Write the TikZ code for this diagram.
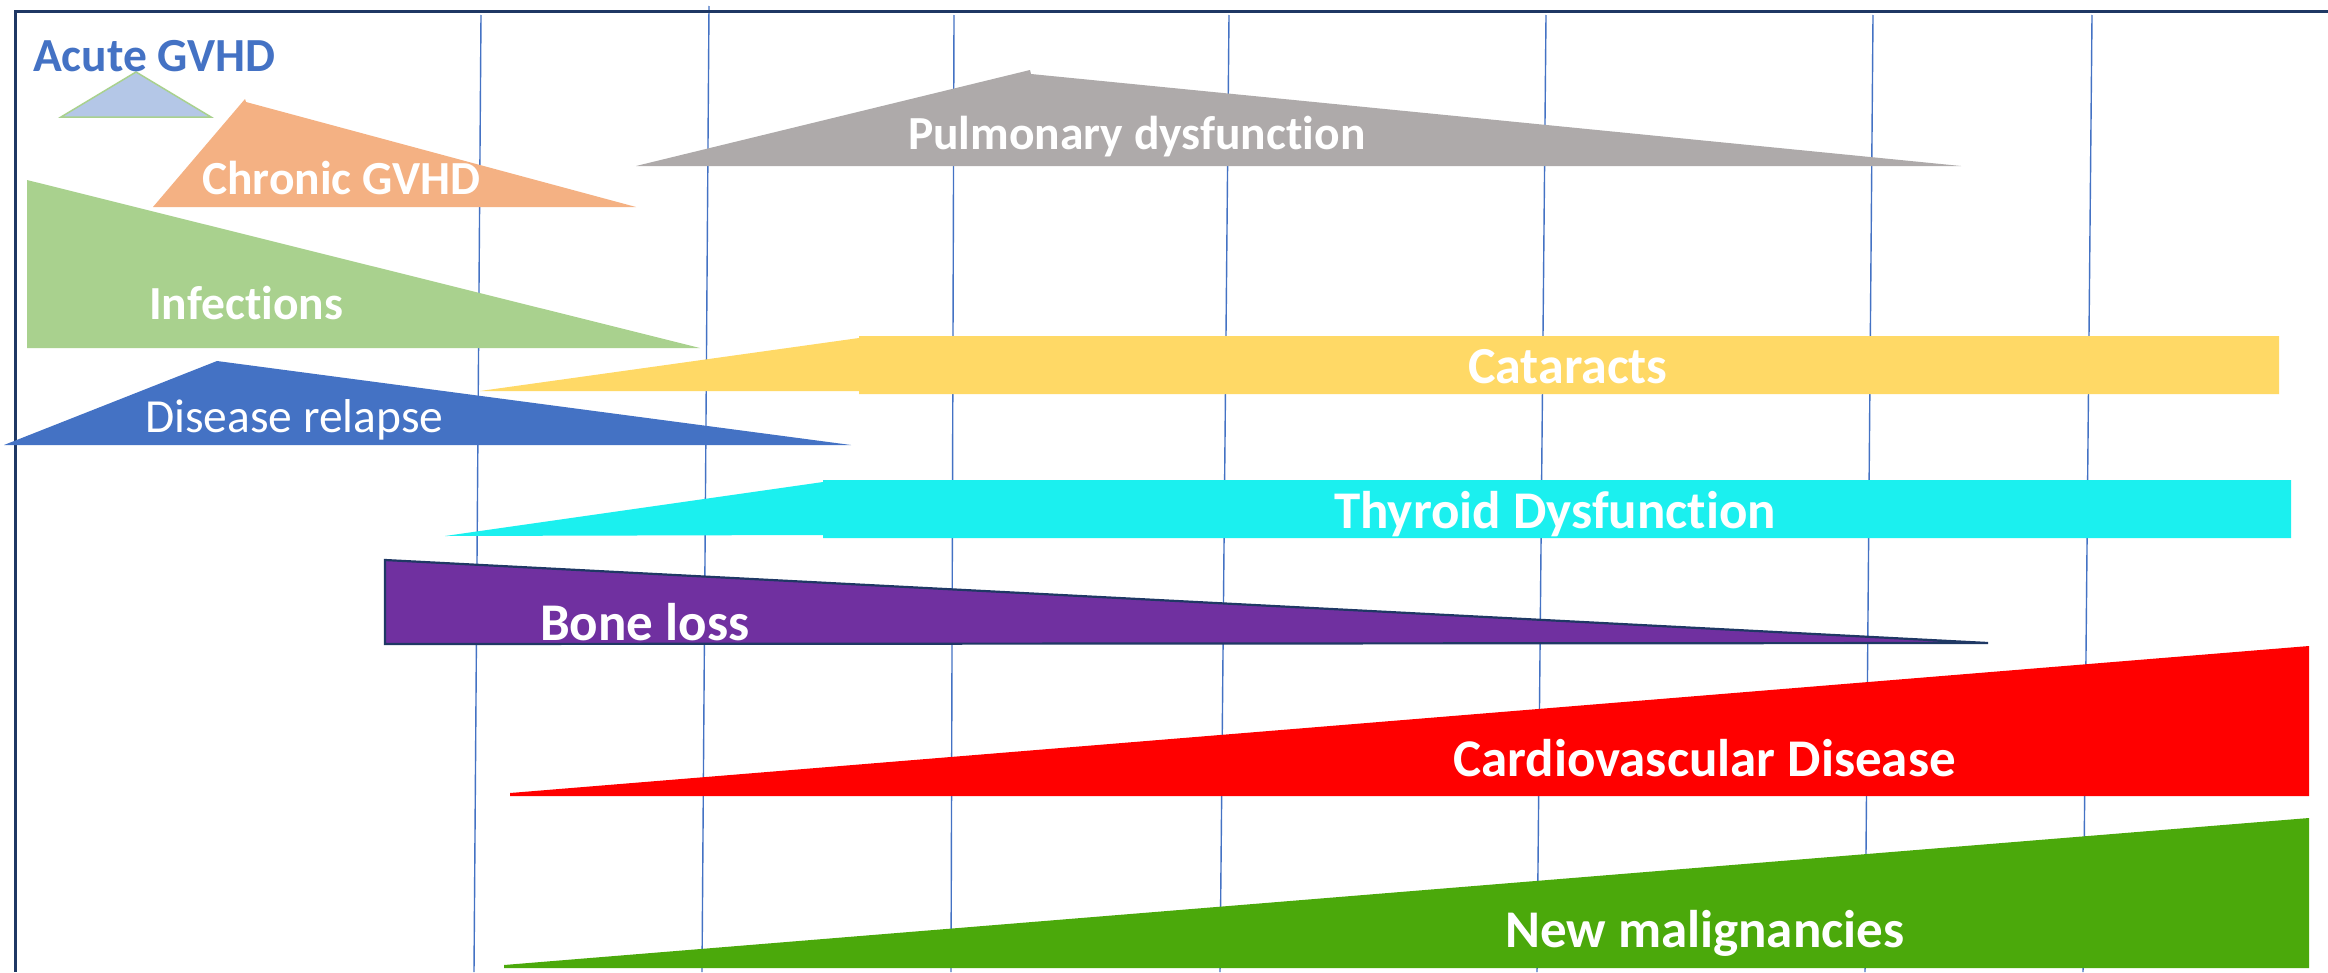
\documentclass[tikz,border=0pt]{standalone}
\usepackage{fontspec}
\setmainfont{Carlito}[Ligatures={NoCommon,NoContextual}]
\definecolor{navy}{HTML}{1F3864}
\definecolor{gridblue}{HTML}{4472C4}
\definecolor{acutefill}{HTML}{B4C7E7}
\definecolor{acuteline}{HTML}{A9D18E}
\definecolor{chronic}{HTML}{F4B183}
\definecolor{infect}{HTML}{A9D18E}
\definecolor{pulmo}{HTML}{AEAAAA}
\definecolor{catar}{HTML}{FFD966}
\definecolor{relapse}{HTML}{4472C4}
\definecolor{thyro}{HTML}{1BF0EF}
\definecolor{bone}{HTML}{7030A0}
\definecolor{cardio}{HTML}{FF0000}
\definecolor{malig}{HTML}{4BA90B}
\begin{document}
\begin{tikzpicture}[x=1pt,y=-1pt,
  gridline/.style={draw=gridblue,line width=1.4pt},
  lbl/.style={anchor=base west,inner sep=0pt,text=white},
  lblA/.style={lbl,font=\fontsize{47.5}{56}\selectfont\bfseries},
  lblB/.style={lbl,font=\fontsize{53}{62}\selectfont\bfseries}]
\useasboundingbox (0,0) rectangle (2328,972);
\fill[white] (0,0) rectangle (2328,972);
% grid lines (behind shapes)
\draw[gridline] (481,15) -- (474,972);
\draw[gridline] (709,6) -- (702,972);
\draw[gridline] (954,15) -- (951,972);
\draw[gridline] (1229,15) -- (1220,972);
\draw[gridline] (1546,15) -- (1537,972);
\draw[gridline] (1873,15) -- (1865,972);
\draw[gridline] (2092,15) -- (2083,972);
% frame
\draw[navy,line width=3pt] (14,11) -- (2328,11);
\draw[navy,line width=2.5pt] (15.5,10) -- (15.5,972);
% shapes
\filldraw[fill=acutefill,draw=acuteline,line width=1.5pt] (61,117) -- (136,72) -- (211,117) -- cycle;
\fill[chronic] (153,207) -- (245,99) -- (246,102) -- (636,207) -- cycle;
\fill[infect] (27,180) -- (700,348) -- (27,348) -- cycle;
\fill[pulmo] (636,166) -- (1030,70) -- (1031,74) -- (1961,166) -- cycle;
\fill[catar] (480,391) -- (859,338) -- (859,336) -- (2279,336) -- (2279,394) -- (859,394) -- (859,391) -- cycle;
\fill[relapse] (4,445) -- (217,361) -- (851,445) -- cycle;
\fill[thyro] (445,536) -- (823,482) -- (823,480) -- (2291,480) -- (2291,538) -- (823,538) -- (823,535) -- cycle;
\filldraw[fill=bone,draw=navy,line width=2.2pt,line join=miter] (385,560) -- (1988,643) -- (385,644) -- cycle;
\fill[cardio] (510,793) -- (2309,646) -- (2309,796) -- (510,796) -- cycle;
\fill[malig] (504,965) -- (2309,818) -- (2309,968) -- (504,968) -- cycle;
% labels
\node[lblA,text=gridblue] (acute) at (33,71) {Acute GVHD};
\node[lblA] (chron) at (202,194) {Chronic GVHD};
\node[lblA] (inf) at (149,319) {Infections};
\node[lblA] (pul) at (908,149) {Pulmonary dysfunction};
\node[lbl,font=\fontsize{52}{60}\selectfont\bfseries] (cat) at (1468,383) {Cataracts};
\node[lbl,font=\fontsize{47.5}{56}\selectfont] (rel) at (145,432) {Disease relapse};
\node[lblB] (thy) at (1334,528) {Thyroid Dysfunction};
\node[lblB] (bon) at (540,640) {Bone loss};
\node[lblB] (car) at (1453,776) {Cardiovascular Disease};
\node[lblB] (new) at (1505,947) {New malignancies};
\end{tikzpicture}
\end{document}
